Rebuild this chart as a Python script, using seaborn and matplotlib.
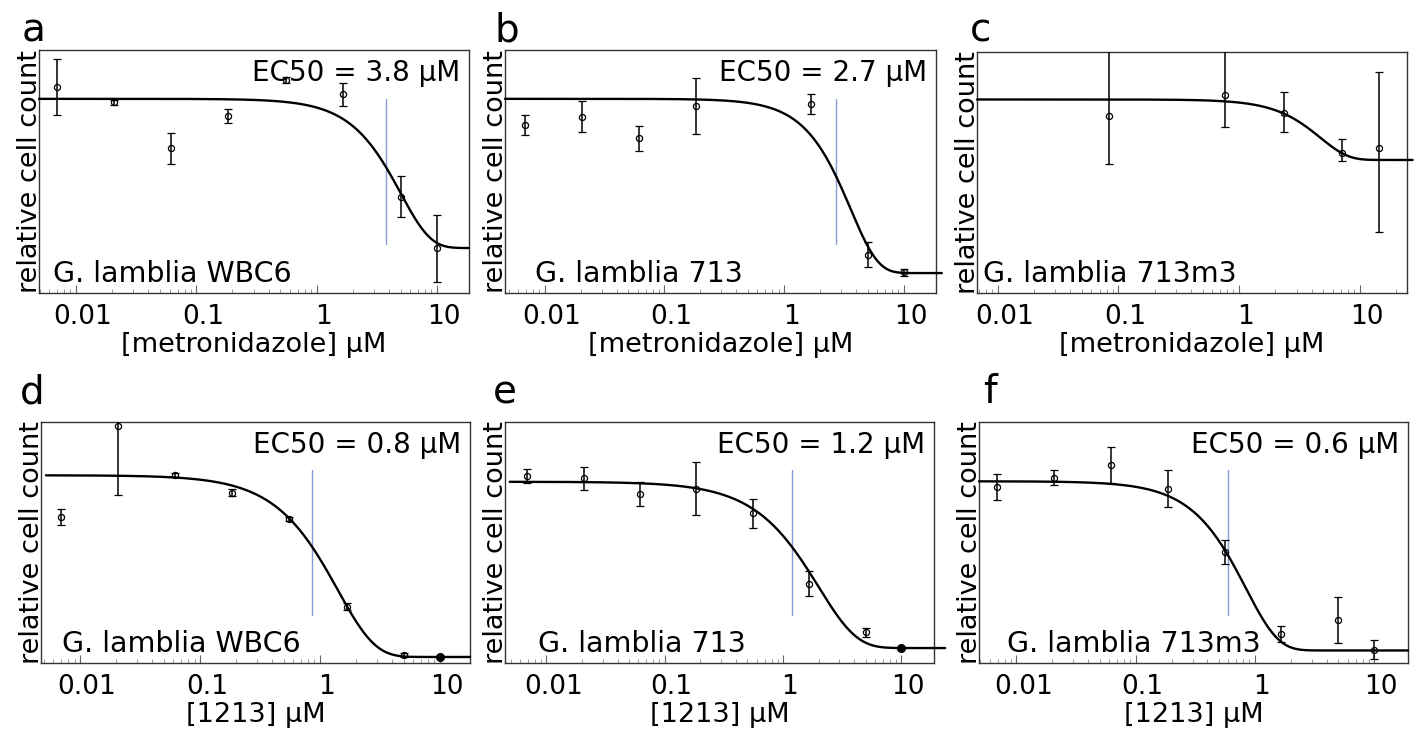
import matplotlib
matplotlib.use("Agg")
import matplotlib.pyplot as plt
import matplotlib.transforms as mtransforms
from matplotlib.ticker import FixedFormatter, FixedLocator, LogLocator, NullFormatter
import numpy as np
import seaborn as sns

sns.set_theme(style="white")
plt.rcParams["font.family"] = ["DejaVu Sans"]
plt.rcParams["text.color"] = "black"
plt.rcParams["axes.labelcolor"] = "black"
plt.rcParams["xtick.labelcolor"] = "black"

# --- data (y = relative cell count, arbitrary units 0..1) ---
doses = [0.0069, 0.0206, 0.0617, 0.185, 0.556, 1.67, 5.0, 10.0]
doses_b = [0.0069, 0.0206, 0.0617, 0.185, 1.67, 5.0, 10.0]
doses_c = [0.083, 0.77, 2.35, 7.2, 14.5]

y_a = [0.847, 0.784, 0.596, 0.729, 0.877, 0.818, 0.397, 0.185]
err_a = [0.116, 0.010, 0.064, 0.029, 0.012, 0.048, 0.085, 0.138]
y_b = [0.692, 0.726, 0.637, 0.771, 0.778, 0.158, 0.085]
err_b = [0.042, 0.064, 0.052, 0.115, 0.040, 0.051, 0.015]
y_c = [0.734, 0.821, 0.745, 0.579, 0.600]
err_c_lo = [0.200, 0.131, 0.079, 0.031, 0.345]
err_c_hi = [0.300, 0.220, 0.089, 0.058, 0.317]
y_d = [0.604, 0.982, 0.779, 0.706, 0.599, 0.234, 0.034, 0.025]
err_d = [0.033, 0.283, 0.008, 0.015, 0.008, 0.015, 0.008, 0.005]
y_e = [0.775, 0.766, 0.703, 0.724, 0.621, 0.328, 0.127, 0.062]
err_e = [0.028, 0.047, 0.050, 0.109, 0.060, 0.052, 0.020, 0.0]
y_f = [0.731, 0.768, 0.821, 0.724, 0.462, 0.121, 0.179, 0.055]
err_f = [0.055, 0.031, 0.075, 0.078, 0.050, 0.033, 0.094, 0.040]

# fitted curves: top, bottom, scale, shape
fit_a = (0.799, 0.185, 5.0, 1.75)
fit_b = (0.799, 0.082, 3.6, 1.9)
fit_c = (0.803, 0.552, 4.73, 1.9)
fit_d = (0.779, 0.025, 1.41, 1.4)
fit_e = (0.752, 0.062, 2.0, 1.35)
fit_f = (0.754, 0.052, 0.84, 1.6)

ec50 = [3.8, 2.7, None, 0.8, 1.2, 0.6]
ec50_line = [3.8, 2.7, None, 0.85, 1.2, 0.6]
strains = ["G. lamblia WBC6", "G. lamblia 713", "G. lamblia 713m3",
           "G. lamblia WBC6", "G. lamblia 713", "G. lamblia 713m3"]
xlabels = ["[metronidazole] µM"] * 3 + ["[1213] µM"] * 3
letters = ["a", "b", "c", "d", "e", "f"]
tick_vals = [0.01, 0.1, 1, 10]
tick_text = ["0.01", "0.1", "1", "10"]

panels = [
    (doses, y_a, err_a, err_a, fit_a),
    (doses_b, y_b, err_b, err_b, fit_b),
    (doses_c, y_c, err_c_lo, err_c_hi, fit_c),
    (doses, y_d, err_d, err_d, fit_d),
    (doses, y_e, err_e, err_e, fit_e),
    (doses, y_f, err_f, err_f, fit_f),
]
filled_last = [False, False, False, True, True, False]

# --- layout (pixels) ---
W, H = 1416, 740
boxes = [(39, 50, 469, 293), (505, 50, 936, 293), (977, 52, 1407, 293),
         (41, 422, 470, 663), (505, 422, 934, 663), (979, 422, 1408, 663)]
xlims = [(0.00493, 18.5), (0.00467, 18.6), (0.00675, 24.7),
         (0.00473, 17.8), (0.00447, 18.9), (0.00486, 19.2)]
curve_ranges = [(0.00493, 18.5), (0.00467, 20.8), (0.00675, 27.5),
                (0.0052, 17.8), (0.0049, 23.5), (0.00486, 19.2)]
strain_x = [0.033, 0.07, 0.014, 0.048, 0.077, 0.065]
letter_pos = [(22, 42), (495, 42), (970, 42), (20, 403), (493, 403), (983, 403)]

fig = plt.figure(figsize=(W / 100, H / 100), dpi=100)
label_shift = mtransforms.ScaledTranslation(7 / 100, 0, fig.dpi_scale_trans)

for i, (x, y, elo, ehi, fit) in enumerate(panels):
    l, t, r, b = boxes[i]
    ax = fig.add_axes([l / W, 1 - b / H, (r - l) / W, (b - t) / H])
    ax.set_xscale("log")
    ax.set_xlim(*xlims[i])
    ax.set_ylim(0, 1)

    # fitted curve
    top, bot, scale, shape = fit
    xs = np.logspace(np.log10(curve_ranges[i][0]), np.log10(curve_ranges[i][1]), 400)
    ys = bot + (top - bot) * np.exp(-(xs / scale) ** shape)
    sns.lineplot(x=xs, y=ys, ax=ax, color="black", lw=1.7, clip_on=False, zorder=3)

    # data points with error bars
    ax.errorbar(x, y, yerr=[elo, ehi], fmt="o", ms=4.4, mfc="none", mec="black",
                mew=0.9, ecolor="black", elinewidth=1.1, capsize=2.8, capthick=1.0,
                zorder=4)
    if filled_last[i]:
        ax.plot(x[-1], y[-1], "o", color="black", ms=5.5, zorder=5)

    if ec50_line[i] is not None:
        ax.axvline(ec50_line[i], ymin=0.2, ymax=0.8, color="#8a9ad4", lw=1.0, zorder=2)
        ax.text(0.98, 0.963, f"EC50 = {ec50[i]} µM", transform=ax.transAxes,
                ha="right", va="top", fontsize=20)

    ax.text(strain_x[i], 0.045, strains[i], transform=ax.transAxes,
            ha="left", va="baseline", fontsize=20.5)

    # axes styling
    ax.xaxis.set_major_locator(FixedLocator(tick_vals))
    ax.xaxis.set_major_formatter(FixedFormatter(tick_text))
    ax.xaxis.set_minor_locator(LogLocator(base=10, subs=(2, 3, 4, 5, 6, 7, 8, 9)))
    ax.xaxis.set_minor_formatter(NullFormatter())
    ax.tick_params(axis="x", which="major", direction="in", length=6, width=0.8,
                   color="#666666", labelcolor="black", pad=8, labelsize=19,
                   bottom=True, top=False)
    ax.tick_params(axis="x", which="minor", direction="in", length=3, width=0.6,
                   color="#888888", bottom=True, top=False)
    ax.set_yticks([])
    for sp in ax.spines.values():
        sp.set_color("#333333")
        sp.set_linewidth(1.0)
    for tick in ax.xaxis.get_major_ticks():
        tick.label1.set_transform(tick.label1.get_transform() + label_shift)

    ax.set_xlabel(xlabels[i], fontsize=19.5, labelpad=1, color="black")
    ax.set_ylabel("relative cell count", fontsize=19.5, color="black")
    ax.yaxis.set_label_coords(0.009, 0.5)

    lx, ly = letter_pos[i]
    fig.text(lx / W, 1 - ly / H, letters[i], fontsize=28, ha="left", va="baseline",
             color="black")

fig.savefig("out.png", dpi=100, facecolor="white")
